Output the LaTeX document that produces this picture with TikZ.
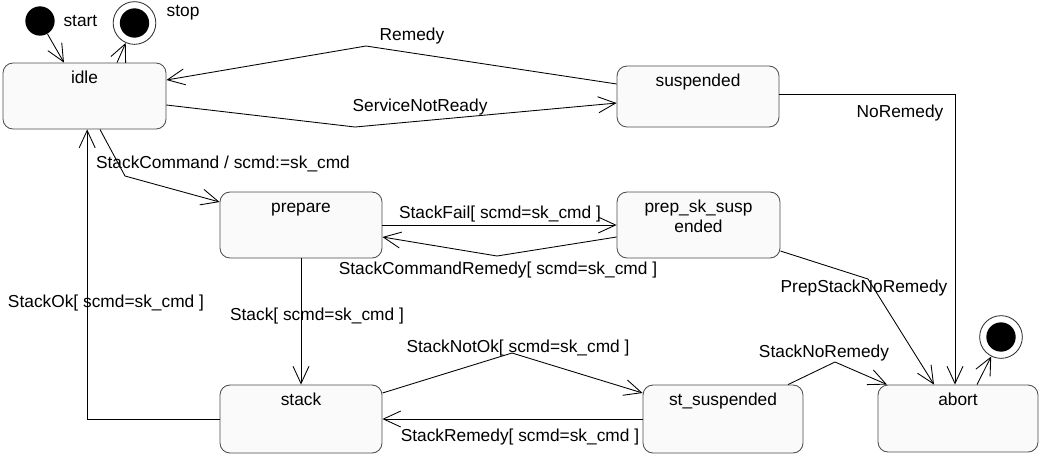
\documentclass[tikz,border=0pt]{standalone}
\usepackage{fontspec}
\setmainfont{Liberation Sans}
\usetikzlibrary{arrows.meta,positioning}
\tikzset{>/.tip={Straight Barb[length=13pt,width=12pt,line width=0.65pt]}}
\tikzset{stbox/.style={draw=black!70,fill=black!2,rounded corners=7.5pt,inner sep=0pt,
    minimum width=121.5pt,text height=15pt,text depth=#1,align=center},
  stbox/.default=34.5pt}
\tikzset{startdot/.style={circle,fill=black,minimum size=22pt,inner sep=0pt}}
\tikzset{enddot/.style={circle,draw=black!80,minimum size=32pt,inner sep=0pt,
    path picture={\fill[black] (path picture bounding box.center) circle (11pt);}}}
\tikzset{trans/.style={inner sep=0pt}}

\begin{document}
\begin{tikzpicture}[x=0.75pt,y=-0.75pt,font=\fontsize{13}{15}\selectfont,line width=0.65pt]
  \useasboundingbox (0,0) rectangle (1039,455);
  % states
  \node[stbox,minimum width=122.25pt] (idle) at (84.5,96) {idle};
  \node[stbox=30.75pt] (susp) at (698,96.5) {suspended};
  \node[stbox] (prepare) at (301,225) {prepare};
  \node[stbox=19.5pt,text height=30pt,minimum width=122.25pt] (prepsk) at (698.5,225) {prep\_sk\_susp\\ended};
  \node[stbox=36pt] (stack) at (301,419) {stack};
  \node[stbox=36pt,minimum width=120pt] (stsusp) at (723,419) {st\_suspended};
  \node[stbox=35.25pt,minimum width=120pt] (abort) at (958,418.5) {abort};
  % pseudo states
  \node[startdot] (start) at (40,21) {};
  \node[trans] (startlbl) [right=6pt of start] {start};
  \node[enddot] (stop) at (134.5,23) {};
  \node[trans] (stoplbl) [right=7.5pt of stop,yshift=7.5pt] {stop};
  \node[enddot] (fin) at (1001,337) {};
  % bends
  \coordinate (remedybend) at (366,46);
  \coordinate (snrbend) at (355,127);
  \coordinate (cmdbend) at (125,176);
  \coordinate (crembend) at (497,256);
  \coordinate (psnrbend) at (868,279);
  \coordinate (notokbend) at (512,353);
  \coordinate (snrembend) at (835,362);
  % transitions
  \draw[->] (start) -- ([xshift=-15.4pt]idle.north);
  \draw[->] ([xshift=24.4pt]idle.north) -- (stop);
  \draw[->] ([yshift=9.4pt]susp.west) -- (remedybend) -- ([yshift=12pt]idle.east);
  \draw[->] ([yshift=-6.75pt]idle.east) -- (snrbend) -- ([yshift=-4.9pt]susp.west);
  \draw[->] ([yshift=1.9pt]susp.east) -| ([xshift=-2.25pt]abort.north);
  \draw[->] ([xshift=11.6pt]idle.south) -- (cmdbend) -- ([yshift=17.25pt]prepare.west);
  \draw[->] (prepare.east) -- (prepsk.west);
  \draw[->] ([yshift=-9pt]prepsk.west) -- (crembend) -- ([yshift=-9pt]prepare.east);
  \draw[->] (prepare.south) -- (stack.north);
  \draw[->] ([yshift=-19.5pt]prepsk.east) -- (psnrbend) -- ([xshift=-18pt]abort.north);
  \draw[->] ([yshift=19.5pt]stack.east) -- (notokbend) -- ([yshift=19.5pt]stsusp.west);
  \draw[->] (stsusp.west) -- (stack.east);
  \draw[->] ([xshift=48.75pt]stsusp.north) -- (snrembend) -- ([xshift=-53.25pt]abort.north);
  \draw[->] (stack.west) -| ([xshift=2pt]idle.south);
  \draw[->] ([xshift=14.25pt]abort.north) -- (fin);
  % labels
  \node[trans] (lremedy) at (412,36) {Remedy};
  \node[trans] (lsnr) at (420,107) {ServiceNotReady};
  \node[trans] (lnorem) at (900,113) {NoRemedy};
  \node[trans] (lcmd) at (223,164) {StackCommand / scmd:=sk\_cmd};
  \node[trans] (lfail) at (500,214) {StackFail[ scmd=sk\_cmd ]};
  \node[trans] (lcrem) at (498,270) {StackCommandRemedy[ scmd=sk\_cmd ]};
  \node[trans] (lok) at (106,303) {StackOk[ scmd=sk\_cmd ]};
  \node[trans] (lpsnr) at (864,288) {PrepStackNoRemedy};
  \node[trans] (lstack) at (317,316) {Stack[ scmd=sk\_cmd ]};
  \node[trans] (lnotok) at (518,348) {StackNotOk[ scmd=sk\_cmd ]};
  \node[trans] (lsnrem) at (824,353) {StackNoRemedy};
  \node[trans] (lsrem) at (520,437) {StackRemedy[ scmd=sk\_cmd ]};
\end{tikzpicture}
\end{document}
